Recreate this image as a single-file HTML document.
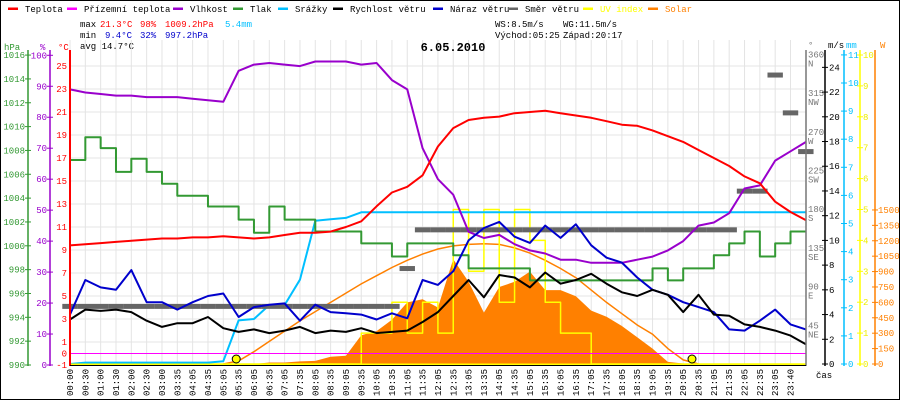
<!DOCTYPE html>
<html><head><meta charset="utf-8"><style>
html,body{margin:0;padding:0;background:#fff}
svg{display:block;font-family:"Liberation Mono",monospace}
</style></head><body>
<svg id="c" width="900" height="400" viewBox="0 0 900 400" xmlns="http://www.w3.org/2000/svg">
<rect x="0.5" y="0.5" width="899" height="399" fill="#fff" stroke="#000"/>
<g id="legend" font-size="9"></g>
<g font-size="9">
<text x="80" y="27">max</text><text x="100" y="27" fill="#f00">21.3°C</text><text x="140" y="27" fill="#f00">98%</text><text x="165" y="27" fill="#f00">1009.2hPa</text><text x="225" y="27" fill="#00bfff">5.4mm</text>
<text x="80" y="38">min</text><text x="105" y="38" fill="#00c">9.4°C</text><text x="140" y="38" fill="#00c">32%</text><text x="165" y="38" fill="#00c">997.2hPa</text>
<text x="80" y="49">avg 14.7°C</text>
<text x="495" y="27">WS:8.5m/s</text><text x="563" y="27">WG:11.5m/s</text>
<text x="495" y="38">Východ:05:25</text><text x="563" y="38">Západ:20:17</text>
</g>
<g id="grid"></g>
<text x="453" y="51" font-size="12" font-weight="bold" text-anchor="middle">6.05.2010</text>
<g id="marks"></g>
<g id="axes" font-size="9"></g>
</svg>
<script>
// ---- data (30-minute samples, 00:00 .. 24:00) ----
const timeLabels = ["00:00","00:30","01:00","01:30","02:00","02:30","03:00","03:35","04:05","04:35","05:05","05:35","06:05","06:35","07:05","07:35","08:05","08:35","09:05","09:35","10:05","10:35","11:05","11:35","12:05","12:35","13:05","13:35","14:05","14:35","15:05","15:35","16:05","16:35","17:05","17:35","18:05","18:35","19:05","19:35","20:05","20:35","21:05","21:35","22:05","22:35","23:05","23:40"];
const temperature = [9.4,9.5,9.6,9.7,9.8,9.9,10.0,10.0,10.1,10.1,10.2,10.1,10.0,10.1,10.3,10.5,10.5,10.6,11.0,11.5,12.8,14.0,14.5,15.5,18.0,19.6,20.3,20.5,20.6,20.9,21.0,21.1,20.9,20.7,20.5,20.2,19.9,19.8,19.4,18.9,18.4,17.7,17.0,16.3,15.4,14.8,13.2,12.3,11.6];
const apparentTemp = [0,0,0,0,0,0,0,0,0,0,0,0,0,0,0,0,0,0,0,0,0,0,0,0,0,0,0,0,0,0,0,0,0,0,0,0,0,0,0,0,0,0,0,0,0,0,0,0,0];
const humidity = [89,88,87.5,87,87,86.5,86.5,86.5,86,85.5,85,95,97,97.5,97,96.5,98,98,98,97,97.5,92,89,70,60,55,43,41,42,39,37,36,34,34,33,33,33,34,35,37,40,45,46,49,57,58,66,69,72];
const pressure = [1007.2,1009.1,1008.2,1006.2,1007.3,1006.2,1005.2,1004.2,1004.2,1003.3,1003.3,1002.2,1001.1,1003.3,1002.2,1002.2,1001.2,1001.2,1001.2,1000.2,1000.2,999.1,1000.2,1000.2,1000.2,999.2,998.1,998.1,998.1,998.1,997.1,997.1,997.1,997.1,997.1,997.1,997.1,997.1,998.1,997.1,998.1,998.1,999.2,1000.2,1001.2,999.1,1000.2,1001.2,1001.2];
const rain = [0,0.05,0.05,0.05,0.05,0.05,0.05,0.05,0.05,0.05,0.1,1.55,1.6,2.1,2.1,3.0,5.1,5.15,5.2,5.4,5.4,5.4,5.4,5.4,5.4,5.4,5.4,5.4,5.4,5.4,5.4,5.4,5.4,5.4,5.4,5.4,5.4,5.4,5.4,5.4,5.4,5.4,5.4,5.4,5.4,5.4,5.4,5.4,5.4];
const windSpeed = [3.6,4.4,4.3,4.4,4.2,3.5,3.0,3.3,3.3,3.8,2.9,2.6,2.8,2.5,2.7,3.0,2.5,2.7,2.6,2.9,2.5,2.6,2.7,3.4,4.2,5.5,6.8,5.4,7.2,7.0,6.2,7.4,6.5,6.8,7.3,6.5,5.8,5.5,6.0,5.6,4.2,5.6,4.0,3.9,3.2,3.0,2.7,2.3,1.6];
const windGust = [4.0,6.8,6.2,6.0,7.6,5.0,5.0,4.4,5.0,5.5,5.7,3.8,4.6,4.8,4.9,3.5,4.8,4.2,4.1,4.0,3.6,4.1,3.7,6.8,6.4,7.5,10.0,11.0,11.5,10.3,9.8,11.2,10.2,11.3,9.6,8.6,8.2,7.0,6.0,5.6,5.0,4.6,4.2,2.8,2.7,3.5,4.4,3.2,2.8];
const windDir = [67,67,67,67,67,67,67,67,67,67,67,67,67,67,67,67,67,67,67,67,67,67,111,156,156,156,156,156,156,156,156,156,156,156,156,156,156,156,156,156,156,156,156,156,201,201,336,292,247];
const uvIndex = [0,0,0,0,0,0,0,0,0,0,0,0,0,0,0,0,0,0,0,1,1,2,1,2,1,5,3,5,2,5,4,2,1,1,0,0,0,0,0,0,0,0,0,0,0,0,0,0,0];
const solar = [0,0,0,0,0,0,0,0,0,0,0,0,0,15,15,25,30,70,80,280,320,430,600,630,550,1020,800,500,750,800,900,720,720,660,520,460,370,260,150,20,5,0,0,0,0,0,0,0,0];
const solarMax = [0,0,0,0,0,0,0,0,0,0,0,30,120,220,320,420,510,600,690,780,860,940,1010,1070,1120,1150,1165,1170,1165,1130,1080,1010,930,840,720,600,490,380,290,150,40,0,0,0,0,0,0,0,0];
const sunEvents = [5.42, 20.28];

// ---- axis functions ----
const xI = i => 70 + i * 15.33;
const xH = h => 70 + h * 30.67;
const yT = t => 365 - (t + 1) * 11.5;
const yHum = h => 365 - h * 3.097;
const yP = p => 365 - (p - 990) * 11.92;
const yV = v => 364 - v * 12.36;
const yD = d => 364 - d * 0.86;
const yR = m => 364 - m * 28.1;
const yU = u => 364 - u * 30.9;
const yW = w => 364 - w * 0.1027;

const NS = "http://www.w3.org/2000/svg";
function mk(tag, attrs, parent) {
  const e = document.createElementNS(NS, tag);
  for (const k in attrs) e.setAttribute(k, attrs[k]);
  parent.appendChild(e);
  return e;
}
const grid = document.getElementById('grid');
const marks = document.getElementById('marks');
const axes = document.getElementById('axes');
const legend = document.getElementById('legend');

// legend
const legendItems = [["Teplota","#f00",25],["Přízemní teplota","#f0f",84],["Vlhkost","#90c",190],["Tlak","#393",250],["Srážky","#00bfff",295],["Rychlost větru","#000",350],["Náraz větru","#00c",450],["Směr větru","#666",525],["UV index","#ff0",600],["Solar","#ff8000",665]];
legendItems.forEach(it => {
  const g = mk('g', {}, legend);
  
  
  mk('rect', {x: it[2] - 17, y: 7.5, width: 10, height: 2.5, fill: it[1]}, g);
  const t = mk('text', {x: it[2], y: 12, fill: (it[0]==="UV index"||it[0]==="Solar") ? it[1] : "#000"}, g);
  t.textContent = it[0];
});

// grid
timeLabels.forEach((lab, i) => {
  const l = mk('line', {x1: xI(i), x2: xI(i), y1: 40, y2: 365, stroke: '#e4e4e4'}, grid);
  
  
});
for (let t = 25; t >= 1; t -= 2) {
  const l = mk('line', {x1: 70, x2: 806, y1: yT(t), y2: yT(t), stroke: '#e4e4e4'}, grid);
  
  
}

function pts(arr, yf, step) {
  let s = [];
  arr.forEach((v, i) => {
    if (step && i > 0) s.push(xI(i) + ',' + yf(arr[i - 1]).toFixed(1));
    s.push(xI(i) + ',' + yf(v).toFixed(1));
  });
  return s.join(' ');
}
function line(arr, yf, color, w, name, step) {
  const p = mk('polyline', {points: pts(arr, yf, step), fill: 'none', stroke: color, 'stroke-width': w, 'stroke-linejoin': 'round'}, marks);
  
  
  return p;
}

// solar area
const area = mk('polygon', {points: xI(0) + ',364 ' + pts(solar, yW, false) + ' ' + xI(solar.length - 1) + ',364', fill: '#ff8000'}, marks);


const sm = solarMax.map((v, i) => v > 0 || (solarMax[i-1] > 0) || (solarMax[i+1] > 0) ? i : -1).filter(i => i >= 0);
const smp = mk('polyline', {points: sm.map(i => xI(i) + ',' + yW(solarMax[i]).toFixed(1)).join(' '), fill: 'none', stroke: '#ff8000', 'stroke-width': 1.5}, marks);



line(uvIndex, yU, '#ff0', 1.5, 'uv-index-line', true);
line(rain, yR, '#00bfff', 2, 'rain-line', false);
line(pressure, yP, '#393', 2, 'pressure-line', true);

// wind direction blocks
windDir.forEach((d, i) => {
  const r = mk('rect', {x: xI(i) - 7.7, y: yD(d) - 2.5, width: 15.4, height: 5, fill: '#666'}, marks);
  
  
});

line(humidity, yHum, '#90c', 2, 'humidity-line', false);
line(temperature, yT, '#f00', 2, 'temperature-line', false);
line(windGust, yV, '#00c', 2, 'wind-gust-line', false);
line(windSpeed, yV, '#000', 2, 'wind-speed-line', false);
line(apparentTemp, yT, '#f0f', 1, 'apparent-temperature-line', false);

const base = mk('line', {x1: 70, x2: 806, y1: 364.5, y2: 364.5, stroke: '#ff0', 'stroke-width': 2}, marks);



sunEvents.forEach(h => {
  const c = mk('circle', {cx: xH(h), cy: 359, r: 4, fill: '#ff0', stroke: '#000', 'stroke-width': 1}, marks);
  
  
});

// axes
function axisLine(x, color, name) {
  const l = mk('line', {x1: x, x2: x, y1: 50, y2: 366, stroke: color, 'stroke-width': 1.5}, axes);
  
  
}
function label(x, y, txt, color, anchor, name) {
  const t = mk('text', {x: x, y: y, fill: color, 'text-anchor': anchor}, axes);
  t.textContent = txt;
  
  
  return t;
}
axisLine(28, '#393', 'pressure-axis');
axisLine(50, '#90c', 'humidity-axis');
const ta = mk('line', {x1: 70, x2: 70, y1: 50, y2: 366, stroke: '#f00', 'stroke-width': 2}, axes);


axisLine(806, '#777', 'direction-axis');
axisLine(825, '#000', 'wind-axis');
axisLine(844, '#00bfff', 'rain-axis');
axisLine(860, '#ff0', 'uv-axis');
axisLine(875, '#ff8000', 'solar-axis');
const bx = mk('line', {x1: 70, x2: 806, y1: 365.5, y2: 365.5, stroke: '#000', 'stroke-width': 1}, axes);



label(4, 50, 'hPa', '#393', 'start', 'pressure-unit');
label(40, 50, '%', '#90c', 'start', 'humidity-unit');
label(58, 50, '°C', '#f00', 'start', 'temperature-unit');
label(808, 48, '°', '#777', 'start', 'direction-unit');
label(828, 48, 'm/s', '#000', 'start', 'wind-unit');
label(846, 48, 'mm', '#00bfff', 'start', 'rain-unit');
label(880, 48, 'W', '#ff8000', 'start', 'solar-unit');

for (let p = 990; p <= 1016; p += 2) {
  label(25, yP(p) + 3, String(p), '#393', 'end', 'pressure-tick-label');
  mk('line', {x1: 25, x2: 31, y1: yP(p), y2: yP(p), stroke: '#393'}, axes);
}
for (let h = 0; h <= 100; h += 10) {
  label(47, yHum(h) + 3, String(h), '#90c', 'end', 'humidity-tick-label');
  mk('line', {x1: 47, x2: 53, y1: yHum(h), y2: yHum(h), stroke: '#90c'}, axes);
}
const tempTicks = [25,23,21,19,17,15,13,11,9,7,5,3,1,0,-1];
tempTicks.forEach(t => label(67, yT(t) + 3, String(t), '#f00', 'end', 'temperature-tick-label'));
const dirTicks = [45,90,135,180,225,270,315,360];
const dirNames = ['NE','E','SE','S','SW','W','NW','N'];
dirTicks.forEach((d, i) => {
  label(808, yD(d) + 3, String(d), '#777', 'start', 'direction-tick-label');
  label(808, yD(d) + 12, dirNames[i], '#777', 'start', 'direction-name-label');
});
for (let v = 0; v <= 24; v += 2) {
  label(829, yV(v) + 3, String(v), '#000', 'start', 'wind-tick-label');
  mk('line', {x1: 822, x2: 828, y1: yV(v), y2: yV(v), stroke: '#000'}, axes);
}
for (let m = 0; m <= 11; m++) {
  label(848, yR(m) + 3, String(m), '#00bfff', 'start', 'rain-tick-label');
  mk('line', {x1: 841, x2: 847, y1: yR(m), y2: yR(m), stroke: '#00bfff'}, axes);
}
for (let u = 0; u <= 10; u++) {
  label(863, yU(u) + 3, String(u), '#ee0', 'start', 'uv-tick-label');
  mk('line', {x1: 857, x2: 863, y1: yU(u), y2: yU(u), stroke: '#ff0'}, axes);
}
for (let w = 0; w <= 1500; w += 150) {
  label(878, yW(w) + 3, String(w), '#ff8000', 'start', 'solar-tick-label');
  mk('line', {x1: 872, x2: 878, y1: yW(w), y2: yW(w), stroke: '#ff8000'}, axes);
}
timeLabels.forEach((lab, i) => {
  const t = mk('text', {x: 0, y: 0, fill: '#000', 'text-anchor': 'end', transform: 'translate(' + (xI(i) + 3) + ',369) rotate(-90)'}, axes);
  t.textContent = lab;
  
  
});
label(816, 378, 'čas', '#000', 'start', 'time-axis-title');
</script>
</body></html>
